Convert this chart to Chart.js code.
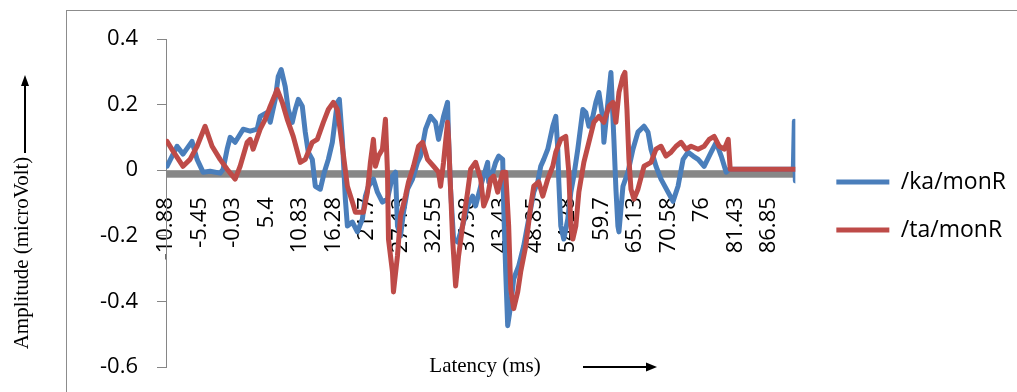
<!DOCTYPE html>
<html><head><meta charset="utf-8">
<script src="https://cdn.jsdelivr.net/npm/chart.js"></script>
<style>html,body{margin:0;padding:0;background:#fff}#wrap{width:1017px;height:392px}</style>
</head><body><div id="wrap"><canvas id="c" width="1017" height="392"></canvas></div>
<script>
const seriesNames = ['/ka/monR', '/ta/monR'];
const xTickLabels = [-10.88,-5.45,-0.03,5.4,10.83,16.28,21.7,27.13,32.55,37.98,43.43,48.85,54.28,59.7,65.13,70.58,76,81.43,86.85];
const yTickValues = [-0.6,-0.4,-0.2,0,0.2,0.4];
const xTitle = 'Latency (ms)';
const yTitle = 'Amplitude (microVolt)';

const kaLatency = [-10.72,-9.09,-8.12,-6.66,-5.84,-4.87,-3.73,-2.11,-1.62,-0.97,-0.48,0.33,1.63,2.77,3.90,4.39,5.53,6.02,6.83,7.32,7.80,8.45,8.94,9.59,10.08,10.57,11.22,11.70,12.19,12.84,13.33,14.14,14.79,15.44,16.09,16.90,17.23,17.71,18.20,18.53,19.34,20.15,20.96,21.45,21.94,22.75,23.40,24.21,25.03,25.84,26.33,26.65,27.14,27.63,28.28,29.09,29.90,30.39,31.20,32.01,32.82,33.31,34.12,34.77,34.94,35.26,35.75,36.40,37.21,38.02,38.84,39.32,40.14,41.27,41.44,42.09,42.57,43.06,43.71,43.87,44.20,44.52,45.01,45.50,46.31,47.12,47.93,48.75,49.40,49.88,50.37,51.02,51.83,52.32,52.64,52.81,53.13,53.62,54.27,54.76,55.24,55.89,56.71,57.19,57.68,58.33,58.82,59.31,59.96,60.12,60.77,61.26,61.74,62.07,62.39,62.56,63.21,64.02,64.83,65.64,66.62,67.27,67.76,68.57,69.38,70.52,71.33,72.14,72.96,73.77,74.59,75.40,76.37,77.51,78.33,79.14,79.95,80.44,90.83,91.00,91.16];
const kaAmplitude = [0.012,0.073,0.049,0.088,0.033,-0.006,-0.003,-0.009,0.003,0.064,0.100,0.085,0.125,0.119,0.125,0.164,0.176,0.146,0.216,0.286,0.307,0.255,0.185,0.146,0.185,0.216,0.195,0.116,0.055,0.033,-0.049,-0.058,-0.006,0.033,0.085,0.207,0.216,0.094,-0.088,-0.170,-0.158,-0.188,-0.149,-0.079,-0.049,-0.027,-0.067,-0.097,-0.088,-0.018,-0.006,-0.170,-0.201,-0.128,-0.058,-0.027,0.024,0.043,0.125,0.164,0.146,0.094,0.164,0.207,0.094,-0.058,-0.210,-0.219,-0.170,-0.109,-0.079,-0.109,-0.049,0.024,-0.036,-0.006,0.024,0.043,0.033,-0.109,-0.310,-0.474,-0.413,-0.331,-0.292,-0.231,-0.149,-0.067,-0.036,0.012,0.033,0.064,0.134,0.164,0.064,-0.036,-0.170,-0.210,-0.149,-0.067,-0.018,0.064,0.185,0.176,0.134,0.164,0.207,0.237,0.155,0.085,0.207,0.298,0.094,-0.058,-0.170,-0.188,-0.049,-0.006,0.064,0.116,0.134,0.116,0.064,0.012,-0.027,-0.067,-0.095,-0.049,0.033,0.055,0.043,0.033,0.012,0.055,0.085,0.043,-0.006,0.003,0.003,0.149,-0.033];

const taLatency = [-10.72,-9.74,-8.12,-6.98,-5.84,-4.54,-3.41,-2.11,-0.97,0.33,1.14,2.28,2.77,3.25,4.39,5.20,6.02,7.15,7.97,8.78,9.75,10.89,11.70,12.84,13.65,14.63,15.44,16.25,16.90,17.71,18.53,19.34,19.83,21.13,21.78,22.26,22.75,23.08,23.56,24.21,24.70,25.03,25.19,25.84,26.00,26.65,27.14,27.95,28.44,29.25,30.06,30.71,31.52,32.50,33.31,33.64,34.12,34.77,34.94,35.26,35.59,36.08,36.56,37.21,38.02,38.51,39.32,40.14,40.63,41.27,41.76,42.25,42.90,43.71,44.20,44.68,45.01,45.50,46.15,46.63,47.45,48.26,48.75,49.56,50.21,51.02,51.83,52.32,53.13,53.94,54.43,54.76,55.08,55.57,56.06,56.87,57.68,58.49,59.31,60.12,60.93,61.58,62.07,62.56,63.21,63.53,63.86,64.18,64.51,64.99,65.64,66.62,67.76,68.57,69.38,70.19,71.01,71.82,72.63,73.45,74.26,75.40,76.37,77.19,78.00,78.81,79.63,80.28,80.60,91.16];
const taAmplitude = [0.088,0.058,0.012,0.033,0.073,0.134,0.073,0.033,0.003,-0.027,0.012,0.085,0.094,0.064,0.125,0.155,0.195,0.246,0.207,0.155,0.103,0.024,0.033,0.085,0.094,0.146,0.185,0.207,0.185,0.073,-0.049,-0.097,-0.128,-0.128,-0.067,0.024,0.094,0.012,0.043,0.064,0.155,-0.006,-0.210,-0.310,-0.371,-0.261,-0.140,-0.079,-0.036,0.012,0.073,0.085,0.033,0.012,-0.006,-0.049,0.024,0.146,0.094,-0.058,-0.210,-0.353,-0.261,-0.170,-0.067,0.003,0.024,-0.027,-0.109,-0.079,-0.027,-0.018,-0.067,-0.006,-0.006,-0.170,-0.362,-0.422,-0.371,-0.310,-0.231,-0.109,-0.049,-0.036,-0.079,-0.027,0.012,0.055,0.094,0.103,-0.006,-0.170,-0.210,-0.170,-0.067,0.024,0.085,0.146,0.164,0.146,0.195,0.207,0.146,0.237,0.286,0.298,0.185,0.033,-0.058,-0.088,-0.058,0.012,0.024,0.064,0.073,0.043,0.055,0.073,0.085,0.064,0.073,0.064,0.073,0.094,0.103,0.073,0.064,0.094,0.003,0.003];

const deco = {
  id: 'deco',
  beforeDraw(chart) {
    const ctx = chart.ctx;
    ctx.save(); ctx.fillStyle = '#fff'; ctx.fillRect(0, 0, chart.width, chart.height); ctx.restore();
  },
  beforeDatasetsDraw(chart) {
    const ctx = chart.ctx, a = chart.chartArea;
    const y0 = chart.scales.y.getPixelForValue(0);
    ctx.save(); ctx.fillStyle = '#878787';
    ctx.fillRect(a.left, y0, a.right - a.left - 1, 7.5);
    ctx.restore();
  },
  afterDraw(chart) {
    const ctx = chart.ctx;
    ctx.save();
    ctx.strokeStyle = '#8c8c8c'; ctx.lineWidth = 1;
    ctx.strokeRect(66.5, 10.5, 1100, 500);
    ctx.fillStyle = '#000'; ctx.strokeStyle = '#000';
    ctx.font = '21px "Liberation Serif"';
    ctx.textAlign = 'center'; ctx.textBaseline = 'middle';
    ctx.save(); ctx.translate(22, 253); ctx.rotate(-Math.PI / 2); ctx.fillText(yTitle, 0, 0); ctx.restore();
    ctx.fillText(xTitle, 485, 366);
    ctx.lineWidth = 2;
    ctx.beginPath(); ctx.moveTo(25, 153); ctx.lineTo(25, 84); ctx.stroke();
    ctx.beginPath(); ctx.moveTo(25, 75); ctx.lineTo(21, 86); ctx.lineTo(29, 86); ctx.closePath(); ctx.fill();
    ctx.beginPath(); ctx.moveTo(583, 367); ctx.lineTo(648, 367); ctx.stroke();
    ctx.beginPath(); ctx.moveTo(657, 367); ctx.lineTo(646, 362.5); ctx.lineTo(646, 371.5); ctx.closePath(); ctx.fill();
    ctx.restore();
  }
};
const legendShift = {
  id: 'legendShift',
  afterLayout(chart) {
    const l = chart.legend;
    l.left += 16; l.right += 16; l.top += 3; l.bottom += 3;
  }
};

const tickFont = { family: '"Open Sans"', size: 22 };
new Chart(document.getElementById('c'), {
  type: 'line',
  data: {
    datasets: [
      { label: seriesNames[0], data: kaLatency.map((x, i) => ({ x, y: kaAmplitude[i] })),
        borderColor: '#4A7EBB', backgroundColor: '#4A7EBB', borderWidth: 5, pointRadius: 0,
        tension: 0, order: 1, borderJoinStyle: 'round', borderCapStyle: 'round' },
      { label: seriesNames[1], data: taLatency.map((x, i) => ({ x, y: taAmplitude[i] })),
        borderColor: '#BE4B48', backgroundColor: '#BE4B48', borderWidth: 5, pointRadius: 0,
        tension: 0, order: 0, borderJoinStyle: 'round', borderCapStyle: 'round' }
    ]
  },
  options: {
    responsive: false, animation: false, devicePixelRatio: 1,
    layout: { padding: { left: 0, top: 39, right: 17, bottom: 25 } },
    scales: {
      x: {
        type: 'linear', min: -10.88, max: 91.16, position: { y: 0 },
        afterBuildTicks: s => { s.ticks = xTickLabels.map(v => ({ value: v })); },
        ticks: { autoSkip: false, minRotation: 90, maxRotation: 90, padding: 27, font: tickFont, color: '#000', callback: v => String(v) },
        grid: { display: false, drawTicks: false }, border: { display: false }
      },
      y: {
        min: -0.6, max: 0.4,
        afterBuildTicks: s => { s.ticks = yTickValues.map(v => ({ value: v })); },
        afterFit: s => { s.width = 166; s.paddingTop = 0; s.paddingBottom = 0; },
        ticks: { padding: 19, font: tickFont, color: '#000', callback: v => String(v) },
        grid: { drawOnChartArea: false, drawTicks: true, tickLength: 9, color: '#868686', lineWidth: 1 },
        border: { display: true, color: '#868686', width: 1 }
      }
    },
    plugins: {
      legend: {
        position: 'right',
        labels: { usePointStyle: true, pointStyle: 'line', pointStyleWidth: 53, boxWidth: 53, padding: 25,
          font: { family: '"Open Sans"', size: 23 }, color: '#000',
          sort: (a, b) => a.datasetIndex - b.datasetIndex }
      },
      tooltip: { enabled: false }
    }
  },
  plugins: [deco, legendShift]
});
</script>
</body></html>
